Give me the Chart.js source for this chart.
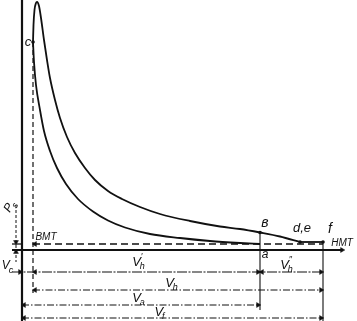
<!DOCTYPE html>
<html><head><meta charset="utf-8">
<script src="https://cdn.jsdelivr.net/npm/chart.js@4/dist/chart.umd.min.js"></script>
<style>html,body{margin:0;padding:0;background:#fff}#wrap{width:357px;height:321px;position:relative}</style>
</head><body><div id="wrap"><canvas id="c"></canvas></div>
<script>
// Key volumes (V) and pressures (p), in diagram units
const V_c = 11, V_a = 238, V_de = 278, V_f = 301;
const p_s = 6, p_de = 8, p_b = 17.5, p_c = 208;

// Compression line c <- a (stored from c to a)
const compressionV = [11, 12, 14, 18, 22, 28, 35, 44, 56, 71, 86, 103, 128, 158, 188, 218, 238];
const compressionP = [208, 188, 165, 140, 119, 99, 82, 66, 51, 38.5, 29.5, 22.5, 16, 12, 9, 7, 6];

// Combustion + expansion line c -> z -> b -> d,e
const expansionV = [11, 11.5, 12.5, 14, 15, 17, 19, 22, 25, 28, 33, 38, 45, 53, 63, 73, 86, 100, 118, 138, 168, 198, 218, 238, 258, 278];
const expansionP = [208, 225, 240, 247, 248, 244, 232, 210, 190, 172, 150, 132, 113, 97, 82, 70, 59, 51, 43, 36, 29, 23.5, 21, 17.5, 13.5, 8];

// Exhaust d,e -> f
const exhaustV = [V_de, V_f];
const exhaustP = [p_de, p_de];

// Dimension-line levels (below the V axis)
const dimLevels = { vc: -22, vh: -40, va: -55, vf: -68 };

function pts(xs, ys) { return xs.map((v, i) => ({ x: v, y: ys[i] })); }
function line(xs, ys, o) {
  return Object.assign({ data: pts(xs, ys), showLine: true, pointRadius: 0, borderColor: '#111',
    borderWidth: 1, tension: 0, clip: false, fill: false }, o || {});
}

const dimDash = [7, 2, 1.5, 2];
const arrows = [
  { x: -2, y: dimLevels.vc, r: 90 }, { x: 13, y: dimLevels.vc, r: -90 },
  { x: V_a - 2, y: dimLevels.vc, r: 90 }, { x: V_a + 2, y: dimLevels.vc, r: -90 }, { x: V_f - 2, y: dimLevels.vc, r: 90 },
  { x: V_c + 2, y: dimLevels.vh, r: -90 }, { x: V_f - 2, y: dimLevels.vh, r: 90 },
  { x: 2, y: dimLevels.va, r: -90 }, { x: V_a - 2, y: dimLevels.va, r: 90 },
  { x: 2, y: dimLevels.vf, r: -90 }, { x: V_f - 2, y: dimLevels.vf, r: 90 },
  { x: 320, y: 0, r: 90 },
  { x: -6, y: p_s + 2, r: 180 }, { x: -6, y: -2, r: 0 },
  { x: V_c + 2, y: p_s, r: -90 }
];

const curve = { borderWidth: 1.8, cubicInterpolationMode: 'monotone' };

const datasets = [
  line([0, 0], [250, -71], { borderWidth: 2.2 }),
  line([-10, 320], [0, 0], { borderWidth: 2 }),
  line([V_c, V_f], [p_s, p_s], { borderWidth: 1.5, borderDash: [7, 4] }),
  line([-10, 0], [p_s, p_s], { borderWidth: 1.3 }),
  line([-6, -6], [45, -12], { borderWidth: 1, borderDash: [3, 2] }),
  line(compressionV, compressionP, curve),
  line(expansionV, expansionP, curve),
  line(exhaustV, exhaustP, { borderWidth: 1.8 }),
  line([V_c, V_c], [p_c, -43], { borderWidth: 1.2, borderDash: [5, 3] }),
  line([V_a, V_a], [p_b, -60], { borderWidth: 1.1 }),
  line([V_f, V_f], [p_de, -71], { borderWidth: 1.1 }),
  line([-10, V_f], [dimLevels.vc, dimLevels.vc], { borderWidth: 1.2, borderDash: [10, 1.5, 2, 1.5] }),
  line([V_c, V_f], [dimLevels.vh, dimLevels.vh], { borderWidth: 1, borderDash: dimDash }),
  line([0, V_a], [dimLevels.va, dimLevels.va], { borderWidth: 1, borderDash: dimDash }),
  line([0, V_f], [dimLevels.vf, dimLevels.vf], { borderWidth: 1, borderDash: dimDash }),
  { data: arrows.map(a => ({ x: a.x, y: a.y })), showLine: false, pointStyle: 'triangle',
    pointRadius: 2.8, pointRotation: arrows.map(a => a.r), backgroundColor: '#111', borderColor: '#111',
    borderWidth: 0.5, clip: false },
  { data: pts([V_a, V_de, V_f, V_c], [p_b, p_de, p_de, p_c]), showLine: false, pointStyle: 'circle',
    pointRadius: 1.8, backgroundColor: '#111', borderColor: '#111', borderWidth: 0, clip: false }
];

const labels = [
  { t: 'c', v: 6, p: 208, s: 13 },
  { t: 'ВМТ', v: 24, p: 13, s: 10 },
  { t: 'в', v: 243, p: 27, s: 14 },
  { t: 'd,e', v: 280, p: 22, s: 13 },
  { t: 'f', v: 308, p: 21, s: 14 },
  { t: 'НМТ', v: 320, p: 7, s: 10 },
  { t: 'a', v: 243, p: -5, s: 12 },
  { t: 'V', sub: 'c', v: -14, p: -16, s: 12 },
  { t: 'V', sub: 'h', sup: '′', v: 117, p: -12, s: 13 },
  { t: 'V', sub: 'h', sup: '″', v: 265, p: -15, s: 13 },
  { t: 'V', sub: 'h', v: 150, p: -33, s: 13 },
  { t: 'V', sub: 'a', v: 117, p: -48, s: 13 },
  { t: 'V', sub: 'f', v: 138, p: -62, s: 13 },
  { t: 'P', sub: 's', v: -12, p: 44, s: 12, rot: -60 }
];

const labelPlugin = {
  id: 'labels',
  afterDatasetsDraw(chart) {
    const { ctx, scales: { x, y } } = chart;
    ctx.save();
    ctx.fillStyle = '#111';
    ctx.textBaseline = 'middle';
    for (const L of labels) {
      const px = x.getPixelForValue(L.v), py = y.getPixelForValue(L.p);
      ctx.save();
      ctx.translate(px, py);
      if (L.rot) ctx.rotate(L.rot * Math.PI / 180);
      const main = `italic ${L.s}px "Liberation Sans", "DejaVu Sans", sans-serif`;
      const small = `italic ${Math.round(L.s * 0.72)}px "Liberation Sans", "DejaVu Sans", sans-serif`;
      ctx.font = main;
      const wm = ctx.measureText(L.t).width;
      ctx.font = small;
      const ws = Math.max(L.sub ? ctx.measureText(L.sub).width : 0, L.sup ? ctx.measureText(L.sup).width : 0);
      const x0 = -(wm + ws) / 2;
      ctx.font = main;
      ctx.fillText(L.t, x0, 0);
      ctx.font = small;
      if (L.sub) ctx.fillText(L.sub, x0 + wm - 1, L.s * 0.35);
      if (L.sup) ctx.fillText(L.sup, x0 + wm, -L.s * 0.4);
      ctx.restore();
    }
    ctx.restore();
  }
};

new Chart(document.getElementById('c'), {
  type: 'scatter',
  data: { datasets },
  options: {
    responsive: true, maintainAspectRatio: false, animation: false,
    layout: { padding: 0, autoPadding: false },
    plugins: { legend: { display: false }, tooltip: { enabled: false } },
    scales: {
      x: { type: 'linear', min: -22, max: 335, display: false },
      y: { type: 'linear', min: -71, max: 250, display: false }
    }
  },
  plugins: [labelPlugin]
});
</script>
</body></html>
